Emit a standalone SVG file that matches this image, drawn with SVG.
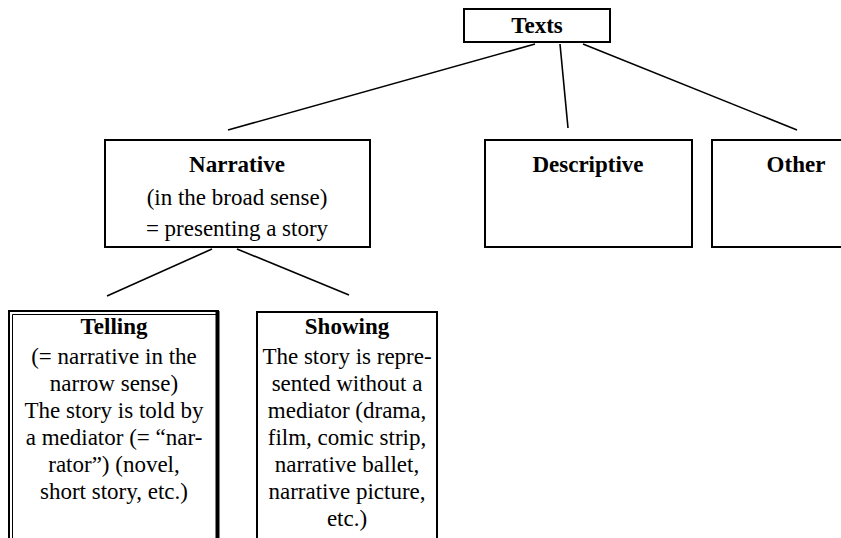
<svg xmlns="http://www.w3.org/2000/svg" width="841" height="538" viewBox="0 0 841 538" font-family="'Liberation Serif', Tinos, 'Times New Roman', 'DejaVu Serif', serif">
  <style>
    .box { fill: #ffffff; stroke: #000000; stroke-width: 2; }
    .edge { stroke: #000000; stroke-width: 1.6; fill: none; }
    text { font-family: 'Liberation Serif', Tinos, 'Times New Roman', 'DejaVu Serif', serif; font-size: 23px; fill: #000000; text-anchor: middle; }
    .title { font-weight: bold; }
  </style>
  <rect width="841" height="538" fill="#ffffff"/>

  <g id="connectors">
    <line class="edge" x1="535" y1="44" x2="228" y2="130"/>
    <line class="edge" x1="560" y1="44" x2="568" y2="128"/>
    <line class="edge" x1="583" y1="44" x2="797" y2="130"/>
    <line class="edge" x1="212" y1="249" x2="107" y2="296"/>
    <line class="edge" x1="237" y1="249" x2="349" y2="295"/>
  </g>

  <g id="texts">
    <rect class="box" x="464" y="9" width="146" height="33"/>
    <text class="title" x="537" y="33">Texts</text>
  </g>

  <g id="narrative">
    <rect class="box" x="105" y="140" width="265" height="107"/>
    <text class="title" x="237" y="172">Narrative</text>
    <text x="237" y="205">(in the broad sense)</text>
    <text x="237" y="236">= presenting a story</text>
  </g>

  <g id="descriptive">
    <rect class="box" x="485" y="140" width="207" height="107"/>
    <text class="title" x="588" y="172">Descriptive</text>
  </g>

  <g id="other">
    <rect class="box" x="712" y="140" width="170" height="107"/>
    <text class="title" x="796" y="172">Other</text>
  </g>

  <g id="telling">
    <!-- thin-thick double frame: outer and inner rule on top/left, merged heavy rule on the right -->
    <rect x="9" y="311" width="209" height="240" fill="#ffffff" stroke="#000" stroke-width="2"/>
    <path d="M12.5 550 V314.5 H216" fill="none" stroke="#000" stroke-width="1"/>
    <line x1="217.5" y1="311" x2="217.5" y2="550" stroke="#000" stroke-width="4"/>
    <text class="title" x="114" y="334">Telling</text>
    <text x="114" y="364">(= narrative in the</text>
    <text x="114" y="391">narrow sense)</text>
    <text x="114" y="418">The story is told by</text>
    <text x="114" y="445">a mediator (= “nar-</text>
    <text x="114" y="472">rator”) (novel,</text>
    <text x="114" y="499">short story, etc.)</text>
  </g>

  <g id="showing">
    <rect class="box" x="257" y="312" width="180" height="240"/>
    <text class="title" x="347" y="334">Showing</text>
    <text x="347" y="364">The story is repre-</text>
    <text x="347" y="391">sented without a</text>
    <text x="347" y="418">mediator (drama,</text>
    <text x="347" y="445">film, comic strip,</text>
    <text x="347" y="472">narrative ballet,</text>
    <text x="347" y="499">narrative picture,</text>
    <text x="347" y="526">etc.)</text>
  </g>
</svg>
